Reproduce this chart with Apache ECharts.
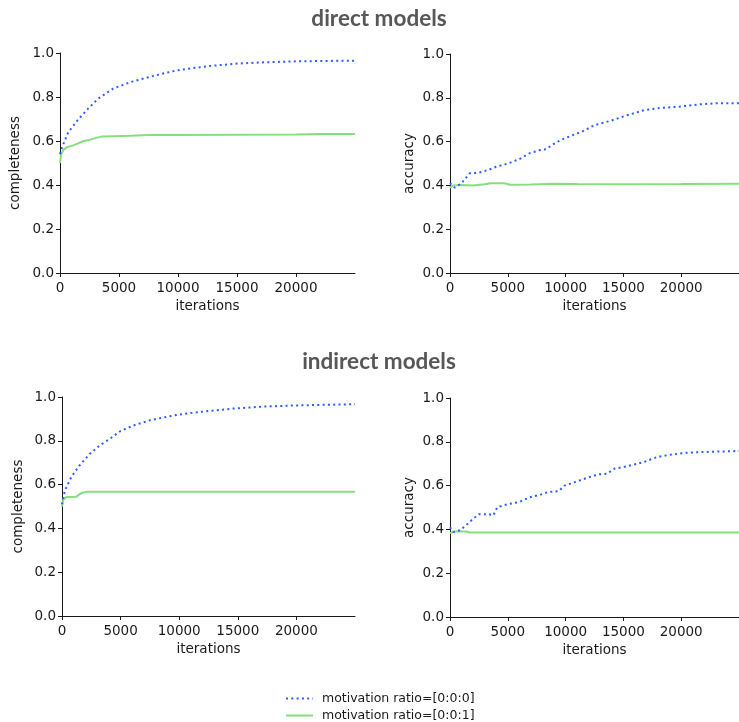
<!DOCTYPE html>
<html>
<head>
<meta charset="utf-8">
<script src="https://cdn.jsdelivr.net/npm/echarts@6/dist/echarts.min.js"></script>
<style>
html,body{margin:0;padding:0;background:#fff;}
#main{width:739px;height:722px;}
</style>
</head>
<body>
<div id="main"></div>
<script>
// ---- data ----
const seriesNames = ['motivation ratio=[0:0:0]', 'motivation ratio=[0:0:1]'];
const xTickValues = [0, 5000, 10000, 15000, 20000];
const yTickValues = [0, 0.2, 0.4, 0.6, 0.8, 1.0];

const dirCompBlueX = [0,200,700,1500,2400,3250,4500,6000,7500,9000,10000,12500,15000,17500,20000,22500,25000];
const dirCompBlueY = [0.54,0.575,0.64,0.695,0.748,0.793,0.838,0.868,0.89,0.91,0.922,0.94,0.952,0.958,0.962,0.964,0.965];
const dirCompGreenX = [0,100,300,600,1000,1500,2000,2500,3000,3500,4500,6000,7500,10000,15000,20000,22000,25000];
const dirCompGreenY = [0.50,0.54,0.56,0.572,0.578,0.588,0.60,0.605,0.613,0.62,0.622,0.624,0.627,0.627,0.628,0.629,0.632,0.632];

const dirAccBlueX = [0,400,1000,1700,2500,3300,4000,5000,6000,6800,7700,8300,9000,9600,10400,11400,12500,13900,15300,16700,17900,19900,21600,23000,25000];
const dirAccBlueY = [0.41,0.39,0.41,0.455,0.458,0.47,0.485,0.50,0.52,0.545,0.56,0.565,0.59,0.608,0.625,0.645,0.675,0.695,0.72,0.742,0.752,0.76,0.77,0.775,0.775];
const dirAccGreenX = [0,300,1000,2000,3000,3500,4700,5200,7000,9000,11000,15000,20000,25000];
const dirAccGreenY = [0.39,0.40,0.402,0.40,0.405,0.41,0.41,0.403,0.404,0.408,0.406,0.405,0.406,0.408];

const indCompBlueX = [0,250,800,1500,2400,3250,4100,5000,6100,7500,8900,10000,11800,14600,17400,20300,25000];
const indCompBlueY = [0.51,0.574,0.635,0.688,0.742,0.78,0.81,0.845,0.87,0.894,0.909,0.92,0.932,0.947,0.957,0.962,0.967];
const indCompGreenX = [0,100,400,1200,1500,1800,2200,25000];
const indCompGreenY = [0.50,0.53,0.543,0.544,0.556,0.564,0.567,0.567];

const indAccBlueX = [0,300,850,1400,2000,2500,3400,3750,4100,5000,6000,6800,7900,8500,9400,9900,10800,11900,12800,13600,14200,15300,16800,17900,18700,20200,21600,25000];
const indAccBlueY = [0.41,0.388,0.396,0.419,0.449,0.469,0.469,0.464,0.502,0.515,0.525,0.545,0.56,0.571,0.574,0.60,0.616,0.636,0.651,0.654,0.677,0.688,0.708,0.73,0.738,0.749,0.753,0.758];
const indAccGreenX = [0,300,1400,1700,25000];
const indAccGreenY = [0.383,0.39,0.39,0.386,0.386];

// ---- build ----
const BLUE = '#2b5cff';
const GREEN = '#86df7e';
const INK = '#1a1a1a';
const FONT = '"DejaVu Sans", sans-serif';
const FS = 13.5;

function zip(xs, ys){ return xs.map((x,i)=>[x, ys[i]]); }

const grids = [
  {left:60, top:53, width:295, height:220},
  {left:450, top:54, width:294, height:219},
  {left:62, top:397, width:293, height:219},
  {left:450, top:398, width:294, height:219}
];
const yNames = ['completeness','accuracy','completeness','accuracy'];
const yNameGaps = [38, 34, 37, 34];
const panels = [
  [zip(dirCompBlueX, dirCompBlueY), zip(dirCompGreenX, dirCompGreenY)],
  [zip(dirAccBlueX, dirAccBlueY), zip(dirAccGreenX, dirAccGreenY)],
  [zip(indCompBlueX, indCompBlueY), zip(indCompGreenX, indCompGreenY)],
  [zip(indAccBlueX, indAccBlueY), zip(indAccGreenX, indAccGreenY)]
];

const axisLine = {show:true, onZero:false, lineStyle:{color:INK, width:1}};
const axisTick = {show:true, length:4, lineStyle:{color:INK, width:1}};

const xAxes = grids.map((g,i)=>({
  type:'value', gridIndex:i, min:0, max:25000, interval:5000,
  name:'iterations', nameLocation:'middle', nameGap:26,
  nameTextStyle:{color:INK, fontSize:FS, fontFamily:FONT},
  axisLine:axisLine,
  axisTick:Object.assign({customValues:xTickValues}, axisTick),
  axisLabel:{customValues:xTickValues, color:INK, fontSize:FS, fontFamily:FONT, margin:8,
             formatter:v=>String(Math.round(v))},
  splitLine:{show:false}
}));
const yAxes = grids.map((g,i)=>({
  type:'value', gridIndex:i, min:0, max:1, interval:0.2,
  name:yNames[i], nameLocation:'middle', nameGap:yNameGaps[i],
  nameTextStyle:{color:INK, fontSize:FS, fontFamily:FONT},
  axisLine:axisLine,
  axisTick:axisTick,
  axisLabel:{color:INK, fontSize:FS, fontFamily:FONT, margin:6, formatter:v=>v.toFixed(1)},
  splitLine:{show:false}
}));

const series = [];
panels.forEach((p,i)=>{
  series.push({
    name:seriesNames[0], type:'line', xAxisIndex:i, yAxisIndex:i, data:p[0],
    showSymbol:false, symbol:'none', smooth:false, animation:false, z:3,
    lineStyle:{color:BLUE, width:2, type:[2,3.3], cap:'butt'}, itemStyle:{color:BLUE}
  });
  series.push({
    name:seriesNames[1], type:'line', xAxisIndex:i, yAxisIndex:i, data:p[1],
    showSymbol:false, symbol:'none', smooth:false, animation:false, z:2,
    lineStyle:{color:GREEN, width:2}, itemStyle:{color:GREEN}
  });
});

const legendBase = {
  orient:'horizontal', left:280,
  itemWidth:27, itemHeight:10, itemGap:6,
  itemStyle:{opacity:0},
  textStyle:{color:INK, fontSize:12.5, fontFamily:FONT, padding:[0,0,0,4]}
};

const chart = echarts.init(document.getElementById('main'), null, {renderer:'canvas'});
chart.setOption({
  animation:false,
  backgroundColor:'#fff',
  grid:grids,
  xAxis:xAxes,
  yAxis:yAxes,
  series:series,
  legend:[
    Object.assign({}, legendBase, {data:[seriesNames[0]], top:687}),
    Object.assign({}, legendBase, {data:[seriesNames[1]], top:704})
  ],
  graphic:[
    {type:'text', x:379, y:19, style:{text:'direct models', fontFamily:'Lato, sans-serif', fontWeight:'bold', fontSize:22.5, fill:'#575757', textAlign:'center', textVerticalAlign:'middle'}},
    {type:'text', x:379, y:362, style:{text:'indirect models', fontFamily:'Lato, sans-serif', fontWeight:'bold', fontSize:22.5, fill:'#575757', textAlign:'center', textVerticalAlign:'middle'}}
  ]
});
</script>
</body>
</html>
